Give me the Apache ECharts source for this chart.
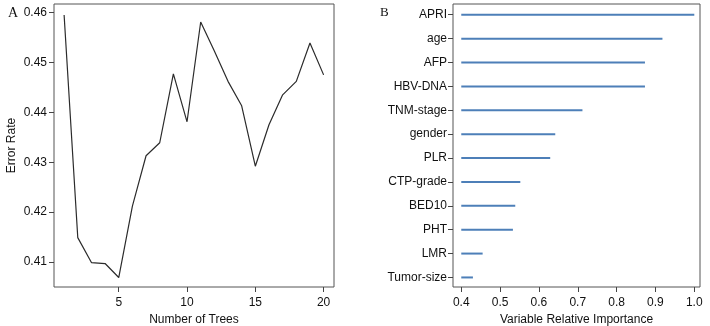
<!DOCTYPE html>
<html>
<head>
<meta charset="utf-8">
<script src="https://cdn.jsdelivr.net/npm/echarts@6/dist/echarts.min.js"></script>
<style>
  html, body { margin: 0; padding: 0; background: #fff; }
  #main { width: 710px; height: 326px; }
</style>
</head>
<body>
<div id="main"></div>
<script>
// panel A: error rate by number of trees
let treeCounts = [1, 2, 3, 4, 5, 6, 7, 8, 9, 10, 11, 12, 13, 14, 15, 16, 17, 18, 19, 20];
let errorRates = [0.4595, 0.4149, 0.4099, 0.4097, 0.4069, 0.4212, 0.4313, 0.4339, 0.4477, 0.4381,
                  0.4581, 0.4523, 0.4462, 0.4413, 0.4292, 0.4375, 0.4435, 0.4462, 0.4539, 0.4475];
let treeTicks = [5, 10, 15, 20];
let errorTicks = [0.41, 0.42, 0.43, 0.44, 0.45, 0.46];

// panel B: variable relative importance
let variables = ['APRI', 'age', 'AFP', 'HBV-DNA', 'TNM-stage', 'gender', 'PLR',
                 'CTP-grade', 'BED10', 'PHT', 'LMR', 'Tumor-size'];
let importance = [1.0, 0.918, 0.873, 0.873, 0.712, 0.642, 0.629, 0.552, 0.539, 0.533, 0.455, 0.430];
let importanceBase = 0.4;
let importanceTicks = [0.4, 0.5, 0.6, 0.7, 0.8, 0.9, 1.0];

let font = 'Liberation Sans, Arial, sans-serif';
let txt = '#111';

let myChart = echarts.init(document.getElementById('main'), null, { renderer: 'canvas' });

function axisCommon(ticks, fmt, margin) {
    return {
        axisLine: { show: false },
        splitLine: { show: false },
        axisTick: {
            show: true, inside: false, length: 5,
            customValues: ticks,
            lineStyle: { color: '#444', width: 1 }
        },
        axisLabel: {
            customValues: ticks,
            formatter: fmt,
            color: txt, fontFamily: font, fontSize: 12, margin: margin
        },
        nameTextStyle: { color: txt, fontFamily: font, fontSize: 12 }
    };
}

let option = {
    animation: false,
    backgroundColor: '#fff',
    title: [
        { text: 'A', left: 3, top: 1, textStyle: { fontFamily: 'Liberation Serif, serif', fontWeight: 'normal', fontSize: 14, color: txt } },
        { text: 'B', left: 375, top: 1, textStyle: { fontFamily: 'Liberation Serif, serif', fontWeight: 'normal', fontSize: 13, color: txt } }
    ],
    grid: [
        { left: 54, top: 4, width: 280, height: 283, outerBoundsMode: 'none', containLabel: false,
          show: true, borderColor: '#555', borderWidth: 1, backgroundColor: 'transparent' },
        { left: 453, top: 4, width: 247, height: 283, outerBoundsMode: 'none', containLabel: false,
          show: true, borderColor: '#555', borderWidth: 1, backgroundColor: 'transparent' }
    ],
    xAxis: [
        Object.assign(axisCommon(treeTicks, v => String(v), 10), {
            type: 'value', gridIndex: 0, min: 0.26, max: 20.76,
            name: 'Number of Trees', nameLocation: 'middle', nameGap: 23
        }),
        Object.assign(axisCommon(importanceTicks, v => v.toFixed(1), 10), {
            type: 'value', gridIndex: 1, min: 0.3787, max: 1.0147,
            name: 'Variable Relative Importance', nameLocation: 'middle', nameGap: 23
        })
    ],
    yAxis: [
        Object.assign(axisCommon(errorTicks, v => v.toFixed(2), 7), {
            type: 'value', gridIndex: 0, min: 0.405, max: 0.4617,
            name: 'Error Rate', nameLocation: 'middle', nameGap: 36, nameRotate: 90
        }),
        Object.assign(axisCommon(variables.map((d, i) => i + 1), v => variables[Math.round(v) - 1] || '', 6), {
            type: 'value', gridIndex: 1, min: 0.55, max: 12.4, inverse: true
        })
    ],
    series: [
        {
            type: 'line',
            xAxisIndex: 0, yAxisIndex: 0,
            data: treeCounts.map((t, i) => [t, errorRates[i]]),
            showSymbol: false,
            lineStyle: { color: '#2b2b2b', width: 1.2 },
            silent: true
        },
        {
            type: 'custom',
            xAxisIndex: 1, yAxisIndex: 1,
            data: variables.map((d, i) => [importance[i], i + 1]),
            renderItem: function (params, api) {
                let p0 = api.coord([importanceBase, api.value(1)]);
                let p1 = api.coord([api.value(0), api.value(1)]);
                return {
                    type: 'line',
                    shape: { x1: p0[0], y1: p0[1], x2: p1[0], y2: p1[1] },
                    style: { stroke: '#4d7fb8', lineWidth: 2 }
                };
            },
            silent: true
        }
    ]
};
myChart.setOption(option);
</script>
</body>
</html>
